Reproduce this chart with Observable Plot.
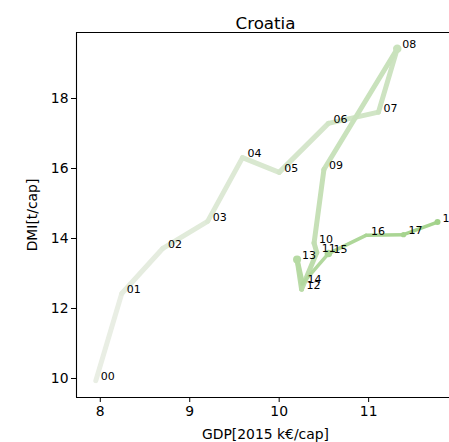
<!DOCTYPE html>
<html>
<head>
<meta charset="utf-8">
<script src="https://cdn.jsdelivr.net/npm/d3@7"></script>
<script src="https://cdn.jsdelivr.net/npm/@observablehq/plot@0.6"></script>
<style>
  html, body { margin: 0; padding: 0; background: #fff; }
  #chart svg { display: block; }
</style>
</head>
<body>
<div id="chart"></div>
<script>
const title = "Croatia";
const years = ["00","01","02","03","04","05","06","07","08","09","10","11","12","13","14","15","16","17","18"];
const gdp = [7.95, 8.24, 8.70, 9.20, 9.59, 10.00, 10.55, 11.11, 11.32, 10.50, 10.39, 10.42, 10.25, 10.20, 10.26, 10.55, 10.97, 11.39, 11.77];
const dmi = [9.94, 12.43, 13.72, 14.49, 16.31, 15.89, 17.29, 17.61, 19.42, 15.97, 13.87, 13.60, 12.55, 13.40, 12.71, 13.57, 14.09, 14.11, 14.47];
const xTicks = [8, 9, 10, 11];
const yTicks = [10, 12, 14, 16, 18];
const xLabel = "GDP[2015 k€/cap]";
const yLabel = "DMI[t/cap]";

const xDomain = [7.734, 11.96];
const yDomain = [9.457, 19.886];

const pts = years.map((y, i) => ({year: y, i, x: gdp[i], y: dmi[i]}));
const segs = pts.slice(1).map((p, k) => ({i: k, x1: pts[k].x, y1: pts[k].y, x2: p.x, y2: p.y}));
const col = t => d3.interpolateRgb("#e9eee4", "#a2d28a")(t / (years.length - 1));
const widthOf = i => (i < 14 ? 5 : 3.5);
const dotR = {"08": 5, "13": 4.5, "15": 4, "17": 2, "18": 2.5};
const dots = pts.filter(p => dotR[p.year] !== undefined);

const chart = Plot.plot({
  width: 449,
  height: 442,
  marginLeft: 76,
  marginRight: -5,
  marginTop: 32,
  marginBottom: 45,
  style: {fontFamily: "DejaVu Sans", fontSize: "13.9px", color: "black", background: "white"},
  x: {domain: xDomain, ticks: xTicks, tickFormat: d3.format("d"), tickSize: 5, tickPadding: 4, label: xLabel, labelAnchor: "center", labelArrow: "none", labelOffset: 41},
  y: {domain: yDomain, ticks: yTicks, tickFormat: d3.format("d"), tickSize: 5, tickPadding: 3, label: yLabel, labelAnchor: "center", labelArrow: "none", labelOffset: 49},
  marks: [
    Plot.link(segs, {x1: "x1", y1: "y1", x2: "x2", y2: "y2", stroke: d => col(d.i), strokeWidth: d => widthOf(d.i), strokeLinecap: "round", strokeLinejoin: "round"}),
    Plot.dot(dots, {x: "x", y: "y", r: d => dotR[d.year], fill: d => col(d.i), stroke: null}),
    Plot.text(pts, {x: "x", y: "y", text: "year", dx: 5, dy: -4, textAnchor: "start", fontSize: 11, fill: "black"}),
    Plot.ruleX([xDomain[0]], {stroke: "black", strokeWidth: 1.1}),
    Plot.ruleY([yDomain[0]], {stroke: "black", strokeWidth: 1.1}),
    Plot.ruleY([yDomain[1]], {stroke: "black", strokeWidth: 1.1}),
    Plot.text([title], {frameAnchor: "top", dy: -15, fontSize: 16.7, fill: "black"})
  ]
});
document.getElementById("chart").appendChild(chart);
</script>
</body>
</html>
